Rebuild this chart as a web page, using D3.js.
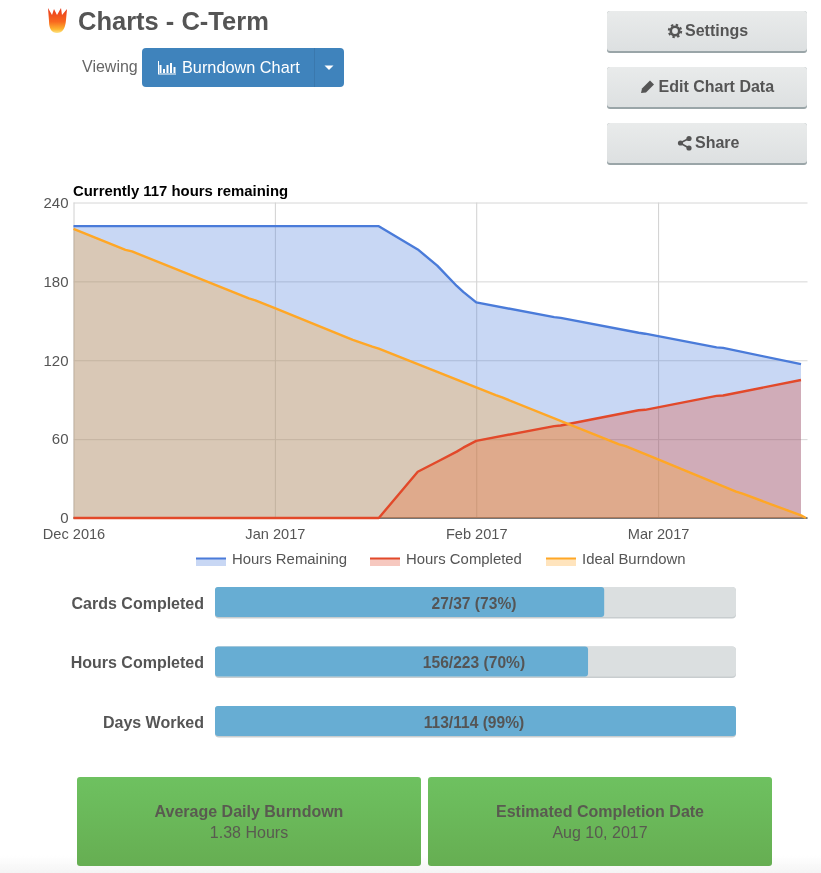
<!DOCTYPE html>
<html><head><meta charset="utf-8">
<script src="https://cdn.jsdelivr.net/npm/d3@7/dist/d3.min.js"></script>
<style>
html,body{margin:0;padding:0;background:#fff;overflow:hidden}
svg{display:block;font-family:"Liberation Sans",Helvetica,Arial,sans-serif;filter:blur(.4px)}
</style></head><body><div id="c"></div>
<script>
const remainingDates=["2016-12-01","2017-01-17","2017-01-23","2017-01-26","2017-01-29","2017-01-30","2017-02-01","2017-02-13","2017-02-14","2017-02-26","2017-02-27","2017-03-10","2017-03-11","2017-03-23"];
const remainingValues=[222,222,204.3,192,176.5,172,164,152.8,152.2,140.9,140.2,129.8,129.4,117];
const completedDates=["2016-12-01","2017-01-17","2017-01-23","2017-01-26","2017-01-29","2017-01-30","2017-02-01","2017-02-13","2017-02-14","2017-02-26","2017-02-27","2017-03-10","2017-03-11","2017-03-23"];
const completedValues=[0,0,35.2,42.8,50.5,53.5,58.7,69.9,70.4,82,82.3,92.9,93.2,105];
const idealDates=["2016-12-01","2016-12-09","2016-12-10","2016-12-28","2016-12-29","2017-01-01","2017-01-13","2017-01-16","2017-01-17","2017-02-01","2017-02-04","2017-02-05","2017-02-23","2017-02-24","2017-03-01","2017-03-13","2017-03-14","2017-03-23","2017-03-23T18:00"];
const idealValues=[220,204,202.8,167,165.6,159.7,135.5,130.4,128.9,99.3,93.5,91.7,56,54.7,44.6,20,18.5,2,0];
const yTicks=[0,60,120,180,240];
const monthTicks=["2016-12-01","2017-01-01","2017-02-01","2017-03-01"];
const monthLabels=["Dec 2016","Jan 2017","Feb 2017","Mar 2017"];
const seriesNames=["Hours Remaining","Hours Completed","Ideal Burndown"];
const seriesColors=["#4a7bd9","#e2492a","#ffa726"];
const barLabels=["Cards Completed","Hours Completed","Days Worked"];
const barTexts=["27/37 (73%)","156/223 (70%)","113/114 (99%)"];
const barFill=[74.7,71.6,100];
const statTitles=["Average Daily Burndown","Estimated Completion Date"];
const statValues=["1.38 Hours","Aug 10, 2017"];
const sideButtons=["Settings","Edit Chart Data","Share"];

const W=821,H=873;
const svg=d3.select("#c").append("svg").attr("width",W).attr("height",H);
const defs=svg.append("defs");
function grad(id,stops){const g=defs.append("linearGradient").attr("id",id).attr("x1",0).attr("y1",0).attr("x2",0).attr("y2",1);
 stops.forEach(s=>g.append("stop").attr("offset",s[0]).attr("stop-color",s[1]).attr("stop-opacity",s[2]===undefined?1:s[2]));}
grad("flame",[[0,"#e8391c"],[.55,"#f9691f"],[.85,"#fdb52f"],[1,"#fde58a"]]);
grad("side",[[0,"#e9ebeb"],[1,"#dde0e1"]]);
grad("green",[[0,"#6ec160"],[1,"#66ae52"]]);
grad("fade",[[0,"#f6f6f6",0],[1,"#f4f4f4",1]]);

// header
svg.append("path").attr("fill","url(#flame)")
 .attr("d","M48 8 L52 15 L54 9 L57 15 L61 8 L62 15 L67 9 L66 20 Q65 33 57 33 Q49 33 49 21 Z");
svg.append("text").attr("x",78).attr("y",30).attr("font-size",25.5).attr("font-weight",700).attr("fill","#555").text("Charts - C-Term");
svg.append("text").attr("x",82).attr("y",72).attr("font-size",16).attr("fill","#666").text("Viewing");
svg.append("rect").attr("x",142).attr("y",48).attr("width",202).attr("height",39).attr("rx",4).attr("fill","#3f83bc");
svg.append("line").attr("x1",314.5).attr("x2",314.5).attr("y1",48).attr("y2",87).attr("stroke","#3a78ad");
const bi=svg.append("g").attr("fill","#fff");
[[160,5,8],[163.5,9,4],[167,5,8],[170.5,3,10],[174,7,6]].forEach(b=>bi.append("rect").attr("x",b[0]-.5).attr("y",60+b[1]).attr("width",2).attr("height",b[2]));
bi.append("rect").attr("x",158).attr("y",73.5).attr("width",18).attr("height",1);
bi.append("rect").attr("x",158).attr("y",61).attr("width",1).attr("height",13);
svg.append("text").attr("x",182).attr("y",73).attr("font-size",16.3).attr("fill","#fff").text("Burndown Chart");
svg.append("path").attr("d","M324.5 65.5h9l-4.5 4.5z").attr("fill","#fff");

// side buttons
const sideY=[11,67,123],sideH=[42,42,42];
sideButtons.forEach((t,i)=>{
 svg.append("rect").attr("x",607).attr("y",sideY[i]).attr("width",200).attr("height",sideH[i]).attr("rx",3).attr("fill","#9aa5a8");
 svg.append("rect").attr("x",607).attr("y",sideY[i]).attr("width",200).attr("height",sideH[i]-2).attr("rx",3).attr("fill","url(#side)");
});
const txtX=[685,658.5,695];
sideButtons.forEach((t,i)=>svg.append("text").attr("x",txtX[i]).attr("y",sideY[i]+25).attr("font-size",16).attr("font-weight",700).attr("fill","#555").text(t));
svg.append("circle").attr("cx",675).attr("cy",31).attr("r",4.2).attr("fill","none").attr("stroke","#555").attr("stroke-width",2.6);
svg.append("circle").attr("cx",675).attr("cy",31).attr("r",6.2).attr("fill","none").attr("stroke","#555").attr("stroke-width",2).attr("stroke-dasharray","2.4 2.47");
svg.append("path").attr("d","M641 93 L642 88.5 L650 80.5 L654 84.5 L646 92.5 Z").attr("fill","#555");
const sh=svg.append("g").attr("fill","#555");
sh.append("path").attr("d","M680 143 L689 138.5 M680 143 L689 148").attr("stroke","#555").attr("stroke-width",1.6);
[[680.5,143],[689,138.5],[689,148]].forEach(p=>sh.append("circle").attr("cx",p[0]).attr("cy",p[1]).attr("r",2.6));

// chart
const m={l:73.5,r:807.5,t:202.5,b:518};
const x=d3.scaleTime().domain([new Date("2016-12-01T00:00"),new Date("2017-03-24T00:00")]).range([m.l,m.r]);
const y=d3.scaleLinear().domain([0,240]).range([m.b,m.t]);
const d=s=>new Date(s.length>10?s:s+"T00:00");
const zip=(ds,vs)=>ds.map((t,i)=>({t:d(t),v:vs[i]}));
const series=[zip(remainingDates,remainingValues),zip(completedDates,completedValues),zip(idealDates,idealValues)];

svg.append("text").attr("x",73).attr("y",195.5).attr("font-size",14.9).attr("font-weight",700).attr("fill","#000").text("Currently 117 hours remaining");

const ax=svg.append("g").attr("transform",`translate(0,${m.b})`).call(
 d3.axisBottom(x).tickValues(monthTicks.map(d)).tickFormat((_,i)=>monthLabels[i]).tickSize(m.t-m.b).tickPadding(0));
ax.select(".domain").remove();
ax.selectAll("line").attr("stroke","#d0d0d0");
ax.selectAll("text").attr("y",21).attr("dy",0).attr("font-size",14.6).attr("font-family","inherit").attr("fill","#555");
const ay=svg.append("g").attr("transform",`translate(${m.l},0)`).call(
 d3.axisLeft(y).tickValues(yTicks).tickSize(m.l-m.r).tickPadding(5));
ay.select(".domain").remove();
ay.selectAll("line").attr("stroke","#d6d6d6");
ay.selectAll("text").attr("font-size",15).attr("font-family","inherit").attr("fill","#555");

const area=d3.area().x(p=>x(p.t)).y0(y(0)).y1(p=>y(p.v));
const line=d3.line().x(p=>x(p.t)).y(p=>y(p.v));
svg.append("line").attr("x1",m.l).attr("x2",m.r).attr("y1",m.b).attr("y2",m.b).attr("stroke","#777").attr("stroke-width",2);
svg.selectAll(".ar").data(series).enter().append("path").attr("class","ar").attr("d",area).attr("fill",(_,i)=>seriesColors[i]).attr("fill-opacity",.3);
svg.selectAll(".ln").data(series).enter().append("path").attr("class","ln").attr("d",line).attr("fill","none").attr("stroke",(_,i)=>seriesColors[i]).attr("stroke-width",2.4).attr("stroke-linejoin","round");

// legend
const lgX=[196,370,546];
seriesNames.forEach((n,i)=>{
 svg.append("rect").attr("x",lgX[i]).attr("y",558).attr("width",30).attr("height",8).attr("fill",seriesColors[i]).attr("fill-opacity",.3);
 svg.append("rect").attr("x",lgX[i]).attr("y",557.5).attr("width",30).attr("height",2).attr("fill",seriesColors[i]);
 svg.append("text").attr("x",lgX[i]+36).attr("y",563.5).attr("font-size",14.9).attr("fill","#555").text(n);
});

// progress bars
const barX=d3.scaleLinear().domain([0,100]).range([215,736]);
const barY=d3.scaleOrdinal().domain(barLabels).range([587,646.5,706]);
barLabels.forEach((n,i)=>{
 const by=barY(n);
 svg.append("rect").attr("x",barX(0)).attr("y",by).attr("width",barX(100)-barX(0)).attr("height",31.5).attr("rx",4).attr("fill","#c8cdcf");
 svg.append("rect").attr("x",barX(0)).attr("y",by).attr("width",barX(100)-barX(0)).attr("height",30).attr("rx",4).attr("fill","#dbdfe0");
 svg.append("rect").attr("x",barX(0)).attr("y",by).attr("width",barX(barFill[i])-barX(0)).attr("height",30).attr("rx",3).attr("fill","#67add3");
 svg.append("text").attr("x",204).attr("y",by+21.5).attr("text-anchor","end").attr("font-size",16).attr("font-weight",700).attr("fill","#555").text(n);
 svg.append("text").attr("x",474).attr("y",by+21.5).attr("text-anchor","middle").attr("font-size",15.6).attr("font-weight",700).attr("fill","#555").text(barTexts[i]);
});

// stat cards
svg.append("rect").attr("x",0).attr("y",855).attr("width",W).attr("height",18).attr("fill","url(#fade)");
const cardX=[77,428];
statTitles.forEach((t,i)=>{
 svg.append("rect").attr("x",cardX[i]).attr("y",777).attr("width",344).attr("height",89).attr("rx",3).attr("fill","url(#green)");
 svg.append("text").attr("x",cardX[i]+172).attr("y",817).attr("text-anchor","middle").attr("font-size",16).attr("font-weight",700).attr("fill","#595a50").text(t);
 svg.append("text").attr("x",cardX[i]+172).attr("y",837.5).attr("text-anchor","middle").attr("font-size",16).attr("fill","#595a50").text(statValues[i]);
});
</script></body></html>
